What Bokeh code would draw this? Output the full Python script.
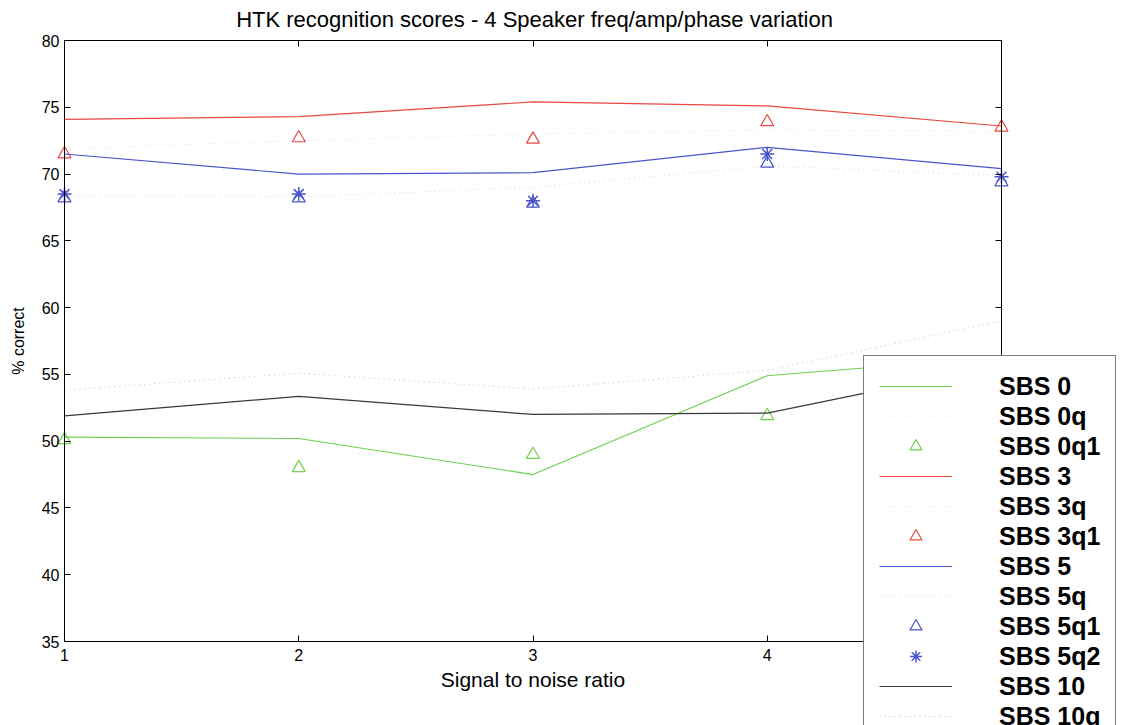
from bokeh.plotting import figure
from bokeh.models import (Legend, LegendItem, LinearAxis, FixedTicker, Range1d,
                          CustomJSTickFormatter, Label)
from bokeh.embed import file_html
from bokeh.resources import INLINE

title_text = "HTK recognition scores - 4 Speaker freq/amp/phase variation"
snr = [1, 2, 3, 4, 5]
sbs0 = [50.3, 50.2, 47.5, 54.9, 56.3]
sbs0q = [50.6, 49.2, 48.6, 53.2, 56.0]
sbs0q1 = [50.1, 48.0, 49.0, 51.9, 55.0]
sbs3 = [74.1, 74.3, 75.4, 75.1, 73.6]
sbs3q = [71.9, 72.5, 73.0, 73.3, 73.2]
sbs3q1 = [71.5, 72.7, 72.6, 73.9, 73.5]
sbs5 = [71.5, 70.0, 70.1, 72.0, 70.4]
sbs5q = [68.4, 68.3, 69.0, 70.6, 69.9]
sbs5q1 = [68.2, 68.2, 67.8, 70.8, 69.4]
sbs5q2 = [68.5, 68.5, 68.0, 71.5, 69.8]
sbs10 = [51.9, 53.35, 52.0, 52.1, 55.7]
sbs10q = [53.8, 55.1, 53.9, 55.3, 59.0]

x_ticks = [1, 2, 3, 4, 5]
y_ticks = [35, 40, 45, 50, 55, 60, 65, 70, 75, 80]
X_MIN, X_MAX = 1, 5
Y_MIN, Y_MAX = 35, 80

GREEN = "#6fd04e"
RED = "#e8483e"
BLUE = "#4a54cc"
BLACK = "#3a3a3a"
FONT = "Liberation Sans"

# The frame covers the whole page; the axes box (1..5 x 35..80) sits at page
# pixels x 64..1001, y 40..641 and is drawn by fixed-location axes, so the
# legend can overhang the box as in the reference.
W, H = 1123, 725
BOX_LEFT, BOX_TOP = 64, 40
BOX_W, BOX_H = 937, 601
x_per_px = (X_MAX - X_MIN) / BOX_W
y_per_px = (Y_MAX - Y_MIN) / BOX_H
x_start = X_MIN - BOX_LEFT * x_per_px
x_end = X_MIN + (W - BOX_LEFT) * x_per_px
y_end = Y_MAX + BOX_TOP * y_per_px
y_start = Y_MAX - (H - BOX_TOP) * y_per_px

p = figure(width=W, height=H, output_backend="svg", toolbar_location=None, title=None,
           x_range=Range1d(x_start, x_end), y_range=Range1d(y_start, y_end),
           min_border_left=0, min_border_right=0, min_border_top=0, min_border_bottom=0,
           x_axis_location=None, y_axis_location=None)
p.grid.visible = False
p.outline_line_color = None
p.background_fill_color = "white"
p.border_fill_color = "white"

p.add_layout(Label(x=534, y=H - 19, x_units="screen", y_units="screen", text=title_text,
                   text_align="center", text_baseline="middle", text_font=FONT,
                   text_font_size="22px", text_color="black"))

blank = CustomJSTickFormatter(code="return ''")


def style(ax, labels=True):
    ax.major_tick_in = 6
    ax.major_tick_out = 0
    ax.minor_tick_in = 0
    ax.minor_tick_out = 0
    ax.axis_line_color = "black"
    ax.axis_line_width = 1
    ax.major_tick_line_color = "black"
    ax.major_label_text_font = FONT
    ax.major_label_text_font_size = "16px"
    ax.major_label_text_color = "black"
    ax.axis_label_text_font = FONT
    ax.axis_label_text_font_style = "normal"
    ax.axis_label_text_color = "black"
    if not labels:
        ax.formatter = blank
        ax.major_label_standoff = 0


left = LinearAxis(ticker=FixedTicker(ticks=y_ticks), axis_label="% correct",
                  fixed_location=X_MIN, bounds=(Y_MIN, Y_MAX))
style(left)
left.major_label_standoff = 5
left.axis_label_standoff = 12
left.axis_label_text_font_size = "16px"
p.add_layout(left, "left")

bottom = LinearAxis(ticker=FixedTicker(ticks=x_ticks), axis_label="Signal to noise ratio",
                    fixed_location=Y_MIN, bounds=(X_MIN, X_MAX))
style(bottom)
bottom.major_label_standoff = 7
bottom.axis_label_standoff = 4
bottom.axis_label_text_font_size = "21px"
p.add_layout(bottom, "below")

top = LinearAxis(ticker=FixedTicker(ticks=x_ticks), fixed_location=Y_MAX,
                 bounds=(X_MIN, X_MAX))
style(top, labels=False)
p.add_layout(top, "above")

right = LinearAxis(ticker=FixedTicker(ticks=y_ticks), fixed_location=X_MAX,
                   bounds=(Y_MIN, Y_MAX))
style(right, labels=False)
p.add_layout(right, "right")

dot = "1 4"
r0 = p.line(snr, sbs0, line_color=GREEN, line_width=1.2)
r0q = p.line(snr, sbs0q, line_color=GREEN, line_width=1, line_dash=dot, line_alpha=0.25)
r0q1 = p.scatter(snr, sbs0q1, marker="triangle", size=13, fill_color=None, line_color=GREEN, line_width=1.2)
r3 = p.line(snr, sbs3, line_color=RED, line_width=1.2)
r3q = p.line(snr, sbs3q, line_color=RED, line_width=1, line_dash=dot, line_alpha=0.25)
r3q1 = p.scatter(snr, sbs3q1, marker="triangle", size=13, fill_color=None, line_color=RED, line_width=1.2)
r5 = p.line(snr, sbs5, line_color=BLUE, line_width=1.2)
r5q = p.line(snr, sbs5q, line_color=BLUE, line_width=1, line_dash=dot, line_alpha=0.25)
r5q1 = p.scatter(snr, sbs5q1, marker="triangle", size=13, fill_color=None, line_color=BLUE, line_width=1.2)
r5q2 = p.scatter(snr, sbs5q2, marker="asterisk", size=14, line_color=BLUE, line_width=1.5)
r10 = p.line(snr, sbs10, line_color=BLACK, line_width=1.2)
r10q = p.line(snr, sbs10q, line_color=BLACK, line_width=1, line_dash=dot, line_alpha=0.3)

items = [
    LegendItem(label="SBS 0", renderers=[r0]),
    LegendItem(label="SBS 0q", renderers=[r0q]),
    LegendItem(label="SBS 0q1", renderers=[r0q1]),
    LegendItem(label="SBS 3", renderers=[r3]),
    LegendItem(label="SBS 3q", renderers=[r3q]),
    LegendItem(label="SBS 3q1", renderers=[r3q1]),
    LegendItem(label="SBS 5", renderers=[r5]),
    LegendItem(label="SBS 5q", renderers=[r5q]),
    LegendItem(label="SBS 5q1", renderers=[r5q1]),
    LegendItem(label="SBS 5q2", renderers=[r5q2]),
    LegendItem(label="SBS 10", renderers=[r10]),
    LegendItem(label="SBS 10q", renderers=[r10q]),
]
# legend top-left at page (863, 357); height = 2*15 + 12*30
leg_h = 2 * 15 + 12 * 30
legend = Legend(items=items, location=(863, H - (357 + leg_h)), padding=15, spacing=0,
                glyph_width=73, glyph_height=30, label_height=30, label_standoff=47,
                label_text_font=FONT, label_text_font_size="25px", label_text_font_style="bold",
                label_text_color="black", label_text_baseline="middle",
                border_line_color="black", border_line_width=1,
                background_fill_color="white", background_fill_alpha=1.0, margin=0)
p.add_layout(legend, "center")

open("out.html", "w").write(file_html(p, INLINE))
